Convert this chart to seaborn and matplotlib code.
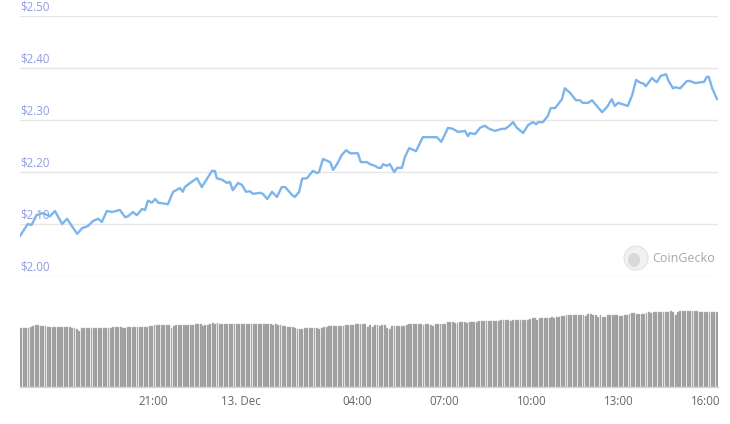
import numpy as np
import pandas as pd
import matplotlib
matplotlib.use("Agg")
import matplotlib.pyplot as plt
from matplotlib.patches import Ellipse
import seaborn as sns

sns.set_style("white")
plt.rcParams["font.family"] = ["Open Sans", "DejaVu Sans"]

# 24h window, one volume bar per 5 minutes
start = pd.Timestamp("2020-12-12 16:25")
end = pd.Timestamp("2020-12-13 16:25")

# price samples: minutes after `start`, USD
price_minutes = [
    0, 16, 24, 34, 47, 62, 72, 87, 97, 118, 128, 140, 151, 161, 169, 179, 190,
    206, 217, 223, 233, 241, 252, 258, 264, 272, 279, 285, 305, 316, 330, 336,
    340, 351, 365, 375, 396, 402, 406, 417, 427, 433, 439, 450, 458, 466, 474,
    481, 495, 501, 510, 520, 530, 540, 547, 561, 567, 576, 582, 592, 604, 613,
    617, 625, 640, 646, 654, 664, 673, 681, 697, 703, 716, 722, 732, 739, 745,
    749, 757, 763, 772, 778, 788, 794, 803, 817, 831, 846, 860, 869, 875, 883,
    893, 904, 918, 924, 928, 939, 949, 959, 968, 980, 994, 1001, 1011, 1017,
    1025, 1038, 1048, 1058, 1065, 1069, 1079, 1089, 1095, 1104, 1118, 1124,
    1135, 1147, 1155, 1161, 1172, 1180, 1190, 1201, 1211, 1221, 1227, 1234,
    1254, 1263, 1271, 1281, 1285, 1291, 1304, 1310, 1314, 1322, 1333, 1337,
    1347, 1351, 1362, 1376, 1382, 1393, 1407, 1411, 1417, 1421, 1428, 1438,
]
price_usd = [
    2.077, 2.100, 2.098, 2.117, 2.121, 2.115, 2.125, 2.100, 2.110, 2.081, 2.092,
    2.096, 2.106, 2.110, 2.104, 2.125, 2.123, 2.127, 2.113, 2.115, 2.123, 2.117,
    2.129, 2.127, 2.145, 2.141, 2.148, 2.141, 2.138, 2.162, 2.169, 2.162, 2.171,
    2.179, 2.188, 2.171, 2.202, 2.202, 2.188, 2.185, 2.179, 2.181, 2.165, 2.179,
    2.175, 2.162, 2.163, 2.158, 2.160, 2.158, 2.148, 2.162, 2.152, 2.171, 2.171,
    2.156, 2.152, 2.162, 2.187, 2.188, 2.202, 2.198, 2.200, 2.225, 2.219, 2.204,
    2.215, 2.233, 2.242, 2.236, 2.236, 2.219, 2.219, 2.215, 2.212, 2.208, 2.208,
    2.215, 2.212, 2.215, 2.200, 2.208, 2.208, 2.229, 2.246, 2.240, 2.267, 2.267,
    2.267, 2.258, 2.269, 2.285, 2.283, 2.277, 2.279, 2.269, 2.275, 2.273, 2.285,
    2.289, 2.283, 2.279, 2.283, 2.283, 2.290, 2.296, 2.285, 2.275, 2.290, 2.296,
    2.292, 2.296, 2.296, 2.308, 2.323, 2.323, 2.340, 2.361, 2.352, 2.338, 2.338,
    2.333, 2.333, 2.338, 2.327, 2.315, 2.325, 2.340, 2.327, 2.333, 2.327, 2.348,
    2.377, 2.371, 2.371, 2.365, 2.381, 2.375, 2.373, 2.385, 2.388, 2.377, 2.361,
    2.363, 2.361, 2.375, 2.375, 2.371, 2.373, 2.373, 2.383, 2.383, 2.361, 2.340,
]

# traded volume per 5-minute bar (millions, relative scale), two hours per row
volume_m = [
    59.3, 59.5, 59.3, 58.8, 60.5, 61.0, 61.7, 61.7, 61.5, 61.0, 60.8, 60.3, 60.3, 60.3, 60.3, 59.8, 60.3, 60.0, 60.0, 59.8, 59.8, 59.5, 59.3, 58.5,
    56.0, 58.8, 58.8, 59.0, 59.3, 59.3, 59.3, 59.3, 59.3, 59.3, 59.3, 59.3, 59.3, 59.3, 59.8, 60.3, 60.3, 60.3, 59.5, 59.3, 59.8, 60.0, 60.0, 60.0,
    60.0, 60.0, 60.0, 60.0, 60.3, 60.8, 61.0, 61.7, 61.7, 61.7, 61.7, 61.7, 61.7, 61.7, 59.5, 61.0, 62.0, 62.0, 62.0, 62.0, 62.0, 62.0, 62.0, 62.3,
    62.7, 62.7, 62.7, 61.0, 62.0, 62.5, 63.0, 63.7, 63.5, 63.7, 63.0, 62.7, 62.7, 63.3, 62.7, 62.7, 62.7, 62.7, 62.7, 62.7, 62.7, 62.7, 62.7, 62.7,
    62.7, 62.7, 62.7, 62.7, 62.7, 62.7, 62.7, 62.7, 62.3, 62.7, 62.3, 61.8, 61.5, 60.8, 60.3, 60.3, 60.0, 59.3, 58.5, 58.3, 58.5, 59.0, 58.7, 58.7,
    58.7, 58.7, 58.7, 58.3, 59.5, 60.0, 60.3, 61.0, 61.0, 61.0, 61.0, 61.0, 61.0, 61.3, 61.7, 61.7, 62.0, 62.3, 62.7, 62.7, 62.7, 62.7, 62.7, 60.0,
    62.0, 60.0, 61.7, 61.7, 61.3, 61.7, 61.7, 58.7, 58.0, 61.3, 61.0, 61.3, 61.0, 61.0, 61.0, 62.0, 62.7, 62.7, 62.7, 62.7, 62.7, 63.0, 62.0, 62.7,
    62.7, 62.5, 61.0, 63.3, 63.3, 63.3, 63.3, 63.3, 65.0, 65.0, 64.7, 64.5, 64.5, 65.0, 65.0, 65.0, 64.5, 65.0, 65.0, 65.0, 65.3, 66.0, 66.0, 66.0,
    66.0, 66.0, 66.0, 66.0, 66.0, 66.0, 67.0, 67.0, 67.0, 67.0, 66.5, 67.0, 67.0, 67.5, 67.5, 67.5, 67.0, 67.5, 68.0, 68.7, 68.7, 66.7, 68.7, 69.0,
    69.3, 69.3, 69.3, 69.8, 69.3, 69.8, 70.3, 70.8, 71.3, 72.0, 72.3, 72.0, 72.0, 72.0, 72.0, 72.0, 72.0, 71.0, 73.3, 73.3, 72.5, 72.3, 70.0, 72.3,
    70.0, 70.0, 72.3, 72.3, 72.3, 72.3, 72.3, 71.5, 71.5, 72.3, 72.3, 73.0, 74.0, 74.0, 73.3, 73.3, 73.3, 73.3, 74.3, 74.7, 74.3, 75.0, 75.0, 75.0,
    75.0, 75.0, 75.0, 75.3, 75.7, 75.0, 72.0, 74.7, 75.7, 75.7, 75.7, 75.7, 75.7, 75.7, 75.7, 75.7, 75.0, 75.0, 75.0, 75.0, 75.0, 75.0, 74.7, 74.7,
]

price_ticks = [2.00, 2.10, 2.20, 2.30, 2.40, 2.50]
time_ticks = ["2020-12-12 21:00", "2020-12-13 00:00", "2020-12-13 04:00",
              "2020-12-13 07:00", "2020-12-13 10:00", "2020-12-13 13:00",
              "2020-12-13 16:00"]
time_labels = ["21:00", "13. Dec", "04:00", "07:00", "10:00", "13:00", "16:00"]

W, H = 730, 424
LINE = "#7cb5ec"
LABEL = "#8e9ce0"
AXIS = "#ccd6eb"
GRID = "#e6e6e6"

fig = plt.figure(figsize=(W / 100, H / 100), dpi=100)
x0, x1 = 20, 718

# --- price panel ---
ax = fig.add_axes([x0 / W, (H - 276) / H, (x1 - x0) / W, 260 / H])
price = pd.DataFrame({
    "time": start + pd.to_timedelta(price_minutes, unit="min"),
    "price": price_usd,
})
for v in price_ticks:
    ax.axhline(v, color=GRID, lw=1, zorder=0)
    ax.annotate(f"${v:.2f}", xy=(0, v), xycoords=("axes fraction", "data"),
                xytext=(0, 2), textcoords="offset points", ha="left", va="bottom",
                color=LABEL, fontsize=8.3, zorder=1)
sns.lineplot(data=price, x="time", y="price", ax=ax, color=LINE, lw=1.7, zorder=3)
ax.set_xlim(start, end)
ax.set_ylim(2.0, 2.5)
ax.set_xticks([])
ax.set_yticks([])
ax.set_xlabel("")
ax.set_ylabel("")
sns.despine(ax=ax, left=True, bottom=True)

# --- volume panel ---
vax = fig.add_axes([x0 / W, (H - 387) / H, (x1 - x0) / W, 100 / H])
bar_times = start + pd.to_timedelta(2.5 + 5 * np.arange(len(volume_m)), unit="min")
vax.bar(bar_times, volume_m, width=pd.Timedelta(minutes=3.9), color="#969696",
        edgecolor="#bdbdbd", linewidth=0.3)
vax.set_xlim(start, end)
vax.set_ylim(0, 100)
vax.set_yticks([])
vax.set_xticks(pd.to_datetime(time_ticks))
vax.set_xticklabels(time_labels)
vax.tick_params(axis="x", length=4.5, width=1, color=AXIS, pad=1.5,
                labelsize=8.3, labelcolor="#666666")
sns.despine(ax=vax, left=True)
vax.spines["bottom"].set_color(AXIS)
vax.spines["bottom"].set_linewidth(1)

# watermark
fig.add_artist(Ellipse((636 / W, (H - 258) / H), 24 / W, 24 / H,
                       transform=fig.transFigure, facecolor="#f1f1f1",
                       edgecolor="#e2e2e2", lw=0.8))
fig.add_artist(Ellipse((634 / W, (H - 260) / H), 12 / W, 14 / H,
                       transform=fig.transFigure, facecolor="#d9d9d9", lw=0))
fig.text(652 / W, (H - 258) / H, "CoinGecko", ha="left", va="center",
         color="#a6a6a6", fontsize=9)

fig.savefig("out.png", dpi=100)
